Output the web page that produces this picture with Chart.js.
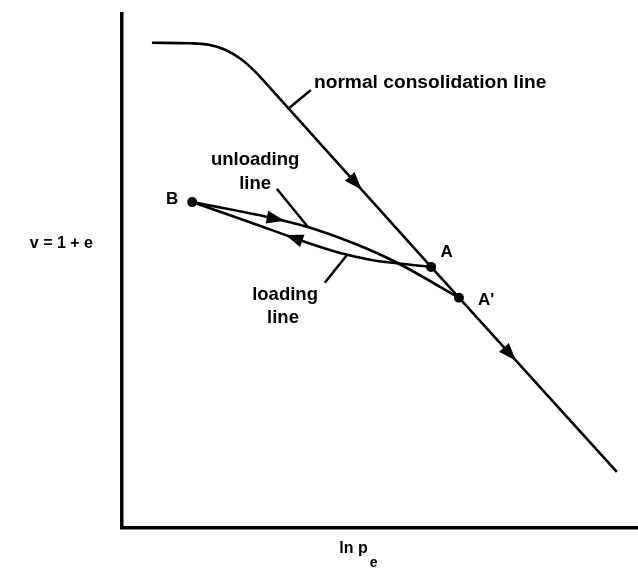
<!DOCTYPE html>
<html>
<head>
<meta charset="utf-8">
<script src="https://cdn.jsdelivr.net/npm/chart.js@4.4.1/dist/chart.umd.min.js"></script>
<style>
  html, body { margin: 0; background: #fff; }
</style>
</head>
<body>
<canvas id="vlnp" width="638" height="574"></canvas>
<script>
/* v - ln p' diagram: normal consolidation line with an unload / reload loop */

const INK  = '#000';
const FONT = '"Liberation Sans", Arial, sans-serif';

// normal consolidation line (ln p, v) in arbitrary units
const nclX = [5.8, 13.2, 16.8, 20.1, 23.1, 25.8, 29.7, 59.9, 65.3, 95.9];
const nclY = [94.4, 94.3, 94.0, 93.0, 91.2, 88.8, 84.5, 50.8, 44.8, 10.9];

// A -> B (lower branch of the loop)
const unloadX = [13.6, 24.8, 34.5, 42.3, 48.1, 53.3, 59.9];
const unloadY = [63.4, 59.5, 56.0, 53.5, 52.2, 51.5, 50.8];

// B -> A' (upper branch of the loop)
const reloadX = [13.6, 30.0, 38.4, 46.1, 53.3, 65.3];
const reloadY = [63.4, 60.1, 57.8, 54.9, 51.6, 44.8];

// state points
const pointNames = ['B', 'A', "A'"];
const pointX = [13.6, 59.9, 65.3];
const pointY = [63.4, 50.8, 44.8];

const series = {
  ncl:    [nclX, nclY],
  unload: [unloadX, unloadY],
  reload: [reloadX, reloadY],
};

// arrowheads along the curves: at = ln p position, dir = +1 towards larger ln p
const arrows = [
  { curve: 'ncl',    at: 45.3, dir:  1 },
  { curve: 'ncl',    at: 75.2, dir:  1 },
  { curve: 'reload', at: 29.8, dir:  1 },
  { curve: 'unload', at: 33.3, dir: -1 },
];

// callout leaders (from label to curve)
const leaders = [
  { x0: 36.6, y0: 85.2, x1: 32.4, y1: 81.7 },
  { x0: 30.0, y0: 66.0, x1: 36.0, y1: 58.6 },
  { x0: 39.3, y0: 47.7, x1: 43.6, y1: 53.1 },
];

const notes = [
  { text: 'normal consolidation line', x: 37.2, y: 85.6, align: 'left', size: 19.2 },
  { text: 'unloading', x: 25.8, y: 70.6, align: 'center', size: 18.5 },
  { text: 'line',      x: 25.8, y: 66.0, align: 'center', size: 18.5 },
  { text: 'loading',   x: 31.6, y: 44.4, align: 'center', size: 18.5 },
  { text: 'line',      x: 31.2, y: 39.9, align: 'center', size: 18.5 },
];

const pointLabels = [
  { x: 9.7,  y: 63.0, align: 'center' },
  { x: 62.9, y: 52.7, align: 'center' },
  { x: 69.0, y: 43.4, align: 'left' },
];

const zip = (xs, ys) => xs.map((v, i) => ({ x: v, y: ys[i] }));

function curveAt(name, at) {
  const [xs, ys] = series[name];
  let i = 0;
  while (i < xs.length - 2 && at > xs[i + 1]) i++;
  const t = (at - xs[i]) / (xs[i + 1] - xs[i]);
  return { i, y: ys[i] + t * (ys[i + 1] - ys[i]), xs, ys };
}

const inkPlugin = {
  id: 'ink',
  afterDatasetsDraw(chart) {
    const { ctx, chartArea } = chart;
    const sx = chart.scales.x, sy = chart.scales.y;
    const px = v => sx.getPixelForValue(v);
    const py = v => sy.getPixelForValue(v);

    ctx.save();
    ctx.fillStyle = INK;
    ctx.strokeStyle = INK;

    /* leaders */
    ctx.lineWidth = 2.5;
    leaders.forEach(l => {
      ctx.beginPath();
      ctx.moveTo(px(l.x0), py(l.y0));
      ctx.lineTo(px(l.x1), py(l.y1));
      ctx.stroke();
    });

    /* arrowheads */
    arrows.forEach(a => {
      const c = curveAt(a.curve, a.at);
      const cx = px(a.at), cy = py(c.y);
      let ang = Math.atan2(py(c.ys[c.i + 1]) - py(c.ys[c.i]), px(c.xs[c.i + 1]) - px(c.xs[c.i]));
      if (a.dir < 0) ang += Math.PI;
      const len = 18, hw = 6.5;
      const ux = Math.cos(ang), uy = Math.sin(ang);
      ctx.beginPath();
      ctx.moveTo(cx + ux * len / 2, cy + uy * len / 2);
      ctx.lineTo(cx - ux * len / 2 - uy * hw, cy - uy * len / 2 + ux * hw);
      ctx.lineTo(cx - ux * len / 2 + uy * hw, cy - uy * len / 2 - ux * hw);
      ctx.closePath();
      ctx.fill();
    });

    /* text */
    ctx.textBaseline = 'alphabetic';
    notes.forEach(n => {
      ctx.font = `bold ${n.size}px ${FONT}`;
      ctx.textAlign = n.align;
      ctx.fillText(n.text, px(n.x), py(n.y));
    });

    ctx.font = `bold 17px ${FONT}`;
    pointLabels.forEach((p, i) => {
      ctx.textAlign = p.align;
      ctx.fillText(pointNames[i], px(p.x), py(p.y));
    });

    /* axis titles */
    ctx.font = `bold 16px ${FONT}`;
    ctx.textAlign = 'right';
    ctx.fillText('v = 1 + e', chartArea.left - 29, py(55.4) + 5);

    ctx.textAlign = 'left';
    const lx = px(42.1), ly = chartArea.bottom + 25;
    ctx.fillText('ln p', lx, ly);
    const w = ctx.measureText('ln p').width;
    ctx.font = `bold 14px ${FONT}`;
    ctx.fillText('e', lx + w + 2, ly + 14);

    ctx.restore();
  }
};

const lineStyle = {
  showLine: true,
  borderColor: INK,
  borderWidth: 2.6,
  pointRadius: 0,
  cubicInterpolationMode: 'monotone',
};

new Chart(document.getElementById('vlnp'), {
  type: 'scatter',
  data: {
    datasets: [
      { label: 'normal consolidation line', data: zip(nclX, nclY), ...lineStyle },
      { label: 'A to B', data: zip(unloadX, unloadY), ...lineStyle },
      { label: "B to A'", data: zip(reloadX, reloadY), ...lineStyle },
      {
        label: 'points',
        data: zip(pointX, pointY),
        showLine: false,
        pointRadius: 5,
        pointBackgroundColor: INK,
        pointBorderColor: INK,
        pointBorderWidth: 0,
      },
    ],
  },
  options: {
    responsive: false,
    animation: false,
    layout: { autoPadding: false, padding: { left: 122, top: 14, right: 0, bottom: 46 } },
    plugins: { legend: { display: false }, tooltip: { enabled: false } },
    scales: {
      x: {
        type: 'linear', min: 0, max: 100,
        grid: { display: false, drawTicks: false },
        ticks: { display: false },
        border: { color: INK, width: 3.5 },
        afterFit: s => { s.height = 0; },
      },
      y: {
        type: 'linear', min: 0, max: 100,
        grid: { display: false, drawTicks: false },
        ticks: { display: false },
        border: { color: INK, width: 3.5 },
        afterFit: s => { s.width = 0; },
      },
    },
  },
  plugins: [inkPlugin],
});
</script>
</body>
</html>
